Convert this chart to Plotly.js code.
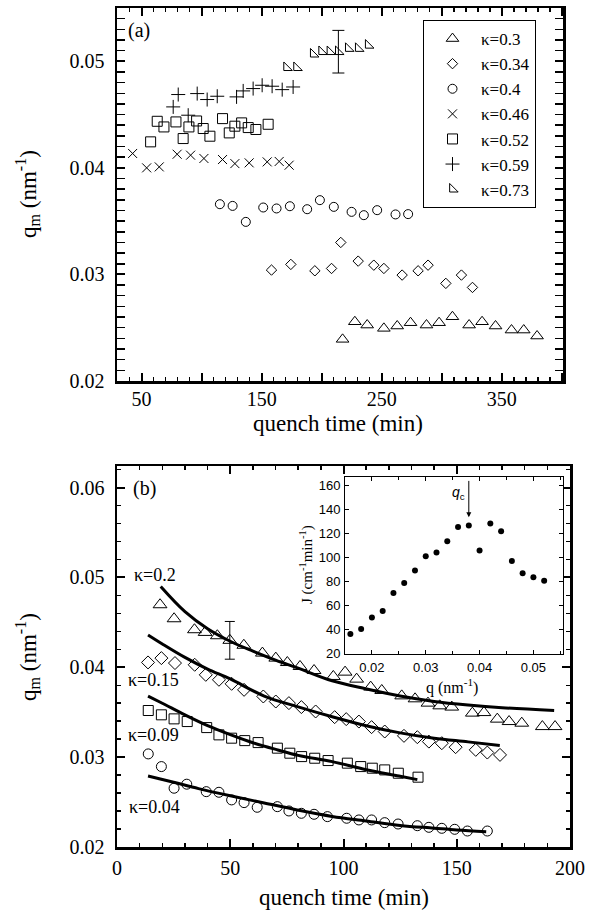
<!DOCTYPE html>
<html>
<head>
<meta charset="utf-8">
<script src="https://cdn.plot.ly/plotly-3.0.1.min.js"></script>
<style>html,body{margin:0;padding:0;background:#fff;}#chart{width:590px;height:915px;}</style>
</head>
<body>
<div id="chart"></div>
<script>
// ---------- Panel (a): q_m vs quench time ----------
const tA30 = [217.4,227.6,237.9,251.8,262.9,274.0,287.3,297.8,308.9,322.8,333.6,344.8,358.1,368.3,379.4];
const qA30 = [0.02391,0.02556,0.02525,0.02494,0.02516,0.02547,0.02525,0.02547,0.02603,0.02525,0.02556,0.02516,0.02478,0.02478,0.02422];
const tA34 = [158.2,174.3,194.3,208.2,215.9,230.4,243.4,251.8,267.0,280.3,288.6,303.4,316.4,325.6];
const qA34 = [0.03041,0.03094,0.03034,0.03056,0.03300,0.03125,0.03087,0.03056,0.02994,0.03034,0.03087,0.02916,0.02994,0.02878];
const tA40 = [115.2,125.8,136.8,151.3,162.4,173.5,187.9,198.5,210.1,224.9,235.1,246.2,261.5,272.0];
const qA40 = [0.03659,0.03643,0.03493,0.03628,0.03619,0.03640,0.03612,0.03697,0.03634,0.03587,0.03556,0.03603,0.03563,0.03566];
const tA46 = [42.5,54.2,64.7,79.6,90.8,101.9,117.4,127.7,139.6,154.6,164.6,172.9];
const qA46 = [0.04135,0.04000,0.04009,0.04128,0.04119,0.04088,0.04078,0.04040,0.04047,0.04056,0.04060,0.04025];
const tA52 = [57.5,63.0,68.6,78.6,84.6,89.4,95.8,101.3,106.9,117.4,123.0,127.7,133.3,138.8,145.2,155.4];
const qA52 = [0.04244,0.04437,0.04384,0.04431,0.04275,0.04384,0.04440,0.04369,0.04297,0.04462,0.04328,0.04391,0.04422,0.04378,0.04360,0.04409];
const tA59 = [76.3,80.5,88.8,96.3,104.6,113.0,129.1,134.6,142.9,150.4,158.7,167.1,176.2];
const qA59 = [0.04572,0.04688,0.04494,0.04697,0.04641,0.04672,0.04666,0.04722,0.04744,0.04775,0.04766,0.04734,0.04759];
const tA73 = [170.8,179.1,193.0,200.0,206.9,213.9,222.2,230.5,238.8];
const qA73 = [0.04940,0.04940,0.05067,0.05090,0.05090,0.05090,0.05120,0.05120,0.05150];
const eA73 = [NaN,NaN,NaN,NaN,NaN,0.0020,NaN,NaN,NaN];

const namesA = ['κ=0.3','κ=0.34','κ=0.4','κ=0.46','κ=0.52','κ=0.59','κ=0.73'];
const xLabelTicksA = [50,150,250,350];
const xMidTicksA = [100,200,300,400];

// ---------- Panel (b): q_m vs quench time with fits ----------
const tB20 = [19.0,25.2,34.2,38.9,44.3,49.8,56.0,64.2,70.1,75.2,80.8,87.0,95.5,100.7,105.8,112.0,116.9,125.7,131.6,137.3,142.5,147.8,156.9,162.0,167.9,173.1,178.7,187.8,193.4];
const qB20 = [0.04696,0.04540,0.04418,0.04388,0.04351,0.04300,0.04245,0.04158,0.04102,0.04053,0.04009,0.03964,0.03898,0.03946,0.03868,0.03779,0.03742,0.03682,0.03649,0.03601,0.03571,0.03557,0.03490,0.03496,0.03423,0.03396,0.03378,0.03340,0.03340];
const eB20 = tB20.map((t,i)=> i===5 ? 0.0021 : NaN);
const tB15 = [13.7,19.6,25.6,34.3,39.2,45.0,50.6,56.1,64.6,70.1,75.9,81.4,87.7,96.1,101.2,106.8,112.4,118.2,126.7,132.6,137.7,143.4,149.5,158.4,163.5,169.1];
const qB15 = [0.04054,0.04102,0.04047,0.04028,0.03916,0.03861,0.03816,0.03749,0.03675,0.03619,0.03601,0.03557,0.03508,0.03445,0.03423,0.03396,0.03334,0.03285,0.03237,0.03222,0.03173,0.03155,0.03111,0.03081,0.03051,0.03025];
const tB09 = [13.8,19.6,25.2,31.0,39.6,45.0,50.6,56.4,62.3,70.8,76.3,81.5,87.3,93.2,101.7,107.6,112.7,118.2,124.2,132.9];
const qB09 = [0.03519,0.03471,0.03426,0.03396,0.03329,0.03248,0.03211,0.03184,0.03162,0.03100,0.03044,0.03006,0.02988,0.02962,0.02933,0.02895,0.02877,0.02858,0.02821,0.02777];
const tB04 = [13.8,19.6,25.2,30.8,39.4,45.0,50.6,56.1,61.9,70.8,75.9,81.4,87.0,92.9,101.4,106.8,112.4,118.2,124.1,132.6,137.7,143.4,149.1,154.7,163.5];
const qB04 = [0.03036,0.02895,0.02654,0.02699,0.02616,0.02609,0.02524,0.02494,0.02442,0.02449,0.02401,0.02375,0.02364,0.02338,0.02320,0.02301,0.02301,0.02271,0.02256,0.02237,0.02219,0.02208,0.02197,0.02178,0.02178];

// fitted curves
const fitT20 = [19.3,30,40,50,60,70,80,95,110,125,140,155,170,193];
const fitQ20 = [0.0490,0.0462,0.0443,0.0429,0.0418,0.0408,0.0399,0.0385,0.0376,0.0368,0.0362,0.0358,0.0355,0.0352];
const fitT15 = [13.7,20,30,40,50,65,80,95,110,125,140,155,169];
const fitQ15 = [0.0436,0.0426,0.0411,0.0398,0.0387,0.0368,0.0356,0.0345,0.0335,0.0327,0.0321,0.0317,0.0313];
const fitT09 = [13.7,20,30,40,50,60,71,80,95,110,124.5,132.6];
const fitQ09 = [0.0368,0.0360,0.0347,0.0335,0.0325,0.0316,0.0308,0.0302,0.0295,0.0286,0.0279,0.0275];
const fitT04 = [13.7,25,36,50,65,80,95,110,125,140,150,163];
const fitQ04 = [0.0279,0.0272,0.0265,0.0257,0.0249,0.0241,0.0234,0.0229,0.0224,0.0221,0.0219,0.0217];

const kappaLabelsB = ['κ=0.2','κ=0.15','κ=0.09','κ=0.04'];
const kappaLabelX = [6.5,4.0,4.0,4.3];
const kappaLabelY = [0.0503,0.0386,0.03248,0.02446];

// ---------- Inset: J vs q ----------
const qIn = [0.016,0.018,0.020,0.022,0.024,0.026,0.028,0.030,0.032,0.034,0.036,0.038,0.040,0.042,0.044,0.046,0.048,0.050,0.052];
const JIn = [36.1,40.2,49.9,55.2,70.2,78.7,89.0,101.0,104.0,113.4,125.3,126.5,105.7,128.2,121.7,97.0,86.8,83.5,80.4];
const qc = 0.038;

// axis titles
const titleTime = 'quench time (min)';
const titleQm = 'q<sub>m</sub> (nm<sup>-1</sup>)';
const titleQ = 'q (nm<sup>-1</sup>)';
const titleJ = 'J (cm<sup>-1</sup>min<sup>-1</sup>)';

const SERIF = 'Liberation Serif';
const SANS = 'Liberation Sans';

function mk(x, y, name, symbol, size, xa, ya, showlegend, extra) {
  return Object.assign({
    type:'scatter', mode:'markers', x:x, y:y, name:name, xaxis:xa, yaxis:ya,
    showlegend:showlegend,
    marker:{symbol:symbol, size:size, color:'black', line:{color:'black', width:1}}
  }, extra || {});
}
function fit(x, y) {
  return {type:'scatter', mode:'lines', x:x, y:y, xaxis:'x2', yaxis:'y2', showlegend:false,
          line:{color:'black', width:3, shape:'spline'}};
}

const traces = [
  mk(tA30,qA30,namesA[0],'triangle-up-open',11,'x','y',true),
  mk(tA34,qA34,namesA[1],'diamond-open',8,'x','y',true),
  mk(tA40,qA40,namesA[2],'circle-open',9,'x','y',true),
  mk(tA46,qA46,namesA[3],'x-thin-open',9,'x','y',true),
  mk(tA52,qA52,namesA[4],'square-open',10,'x','y',true),
  mk(tA59,qA59,namesA[5],'cross-thin-open',10,'x','y',true),
  mk(tA73,qA73,namesA[6],'triangle-sw-open',9.5,'x','y',true,
     {error_y:{type:'data', array:eA73, visible:true, color:'black', thickness:1, width:6}}),
  {type:'scatter', mode:'markers', x:[], y:[], xaxis:'x4', yaxis:'y', showlegend:false},

  fit(fitT20, fitQ20), fit(fitT15, fitQ15), fit(fitT09, fitQ09), fit(fitT04, fitQ04),
  mk(tB20,qB20,kappaLabelsB[0],'triangle-up-open',12,'x2','y2',false,
     {error_y:{type:'data', array:eB20, visible:true, color:'black', thickness:1, width:5}}),
  mk(tB15,qB15,kappaLabelsB[1],'diamond-open',10,'x2','y2',false),
  mk(tB09,qB09,kappaLabelsB[2],'square-open',10,'x2','y2',false),
  mk(tB04,qB04,kappaLabelsB[3],'circle-open',10,'x2','y2',false),

  {type:'scatter', mode:'markers', x:qIn, y:JIn, xaxis:'x3', yaxis:'y3', showlegend:false,
   marker:{symbol:'circle', size:6, color:'black'}}
];

function mainAxis(extra) {
  return Object.assign({
    showline:true, linecolor:'black', linewidth:2.5, mirror:'allticks',
    ticks:'inside', ticklen:8, tickwidth:2, tickcolor:'black',
    showgrid:false, zeroline:false, automargin:false,
    tickfont:{family:SERIF, size:20, color:'black'},
    ticklabelstandoff:6
  }, extra);
}
function insetAxis(extra) {
  return Object.assign({
    showline:true, linecolor:'black', linewidth:1, mirror:'allticks',
    ticks:'inside', ticklen:4, tickwidth:1, tickcolor:'black',
    showgrid:false, zeroline:false, automargin:false,
    tickfont:{family:SANS, size:13, color:'black'},
    ticklabelstandoff:1
  }, extra);
}

const W = 590, H = 915;
const px = v => v / W;
const py = v => 1 - v / H;

function txt(text, x, y, size, family, angle) {
  return {xref:'paper', yref:'paper', x:px(x), y:py(y), xanchor:'center', yanchor:'middle',
          showarrow:false, text:text, textangle:angle || 0, font:{family:family, size:size, color:'black'}};
}

const layout = {
  width:W, height:H,
  margin:{l:0, r:0, t:0, b:0},
  paper_bgcolor:'white', plot_bgcolor:'white',
  font:{family:SERIF, color:'black'},
  showlegend:true,
  legend:{x:px(423), y:py(20), xanchor:'left', yanchor:'top',
          bordercolor:'black', borderwidth:1, bgcolor:'white',
          font:{family:SERIF, size:17, color:'black'},
          itemwidth:47, tracegroupgap:0},
  xaxis: mainAxis({domain:[px(117), px(563)], anchor:'y', range:[29.5, 401],
    tickmode:'array', tickvals:xLabelTicksA, ticklabelstandoff:-2,
    minor:{tickmode:'linear', tick0:0, dtick:10, ticks:'inside', ticklen:4, tickwidth:1.5, tickcolor:'black'}}),
  xaxis4: {overlaying:'x', anchor:'y', range:[29.5, 401], showline:false, showgrid:false, zeroline:false,
    tickmode:'array', tickvals:xMidTicksA, showticklabels:false, ticks:'inside', ticklen:8, tickwidth:2,
    tickcolor:'black', mirror:'allticks', automargin:false},
  yaxis: mainAxis({domain:[py(381), py(8)], anchor:'x', range:[0.02, 0.055],
    tick0:0, dtick:0.01, tickformat:'.2f',
    minor:{tick0:0, dtick:0.001, ticks:'inside', ticklen:4, tickwidth:1.5, tickcolor:'black'}}),
  xaxis2: mainAxis({domain:[px(117), px(570)], anchor:'y2', range:[0, 200],
    tick0:0, dtick:50, ticklabelstandoff:1,
    minor:{tick0:0, dtick:10, ticks:'inside', ticklen:4, tickwidth:1.5, tickcolor:'black'}}),
  yaxis2: mainAxis({domain:[py(847), py(466)], anchor:'x2', range:[0.02, 0.0624],
    tick0:0, dtick:0.01, tickformat:'.2f',
    minor:{tick0:0, dtick:0.002, ticks:'inside', ticklen:4, tickwidth:1.5, tickcolor:'black'}}),
  xaxis3: insetAxis({domain:[px(345), px(563)], anchor:'y3', range:[0.015, 0.0555],
    tick0:0, dtick:0.01, tickformat:'.2f',
    minor:{tick0:0, dtick:0.005, ticks:'inside', ticklen:3, tickwidth:1, tickcolor:'black'}}),
  yaxis3: insetAxis({domain:[py(654), py(477)], anchor:'x3', range:[19.4, 167],
    tick0:0, dtick:20}),
  annotations: [
    txt(titleTime, 338, 424, 23, SERIF),
    txt(titleQm, 27, 194, 23, SERIF, -90),
    txt(titleTime, 344, 897, 23, SERIF),
    txt(titleQm, 27, 657, 23, SERIF, -90),
    txt(titleQ, 452, 686, 16, SERIF),
    txt(titleJ, 306, 565, 15, SERIF, -90),
    {xref:'paper', yref:'paper', x:px(126), y:py(31), xanchor:'left', yanchor:'middle', showarrow:false,
     text:'(a)', font:{family:SERIF, size:20, color:'black'}},
    {xref:'paper', yref:'paper', x:px(131), y:py(488), xanchor:'left', yanchor:'middle', showarrow:false,
     text:'(b)', font:{family:SERIF, size:20, color:'black'}},
    {xref:'x3', yref:'y3', x:qc - 0.0003, y:154, xanchor:'right', yanchor:'middle', showarrow:false,
     text:'<i>q</i><sub>c</sub>', font:{family:SANS, size:14, color:'black'}},
    {xref:'x3', yref:'y3', x:qc, y:133.5, axref:'x3', ayref:'y3', ax:qc, ay:165, text:'',
     showarrow:true, arrowhead:2, arrowsize:1, arrowwidth:1, arrowcolor:'black'}
  ].concat(kappaLabelsB.map((s,i)=>({
     xref:'x2', yref:'y2', x:kappaLabelX[i], y:kappaLabelY[i], xanchor:'left', yanchor:'middle',
     showarrow:false, text:s, font:{family:SERIF, size:18, color:'black'}})))
};

Plotly.newPlot('chart', traces, layout, {staticPlot:true, displayModeBar:false});
</script>
</body>
</html>
